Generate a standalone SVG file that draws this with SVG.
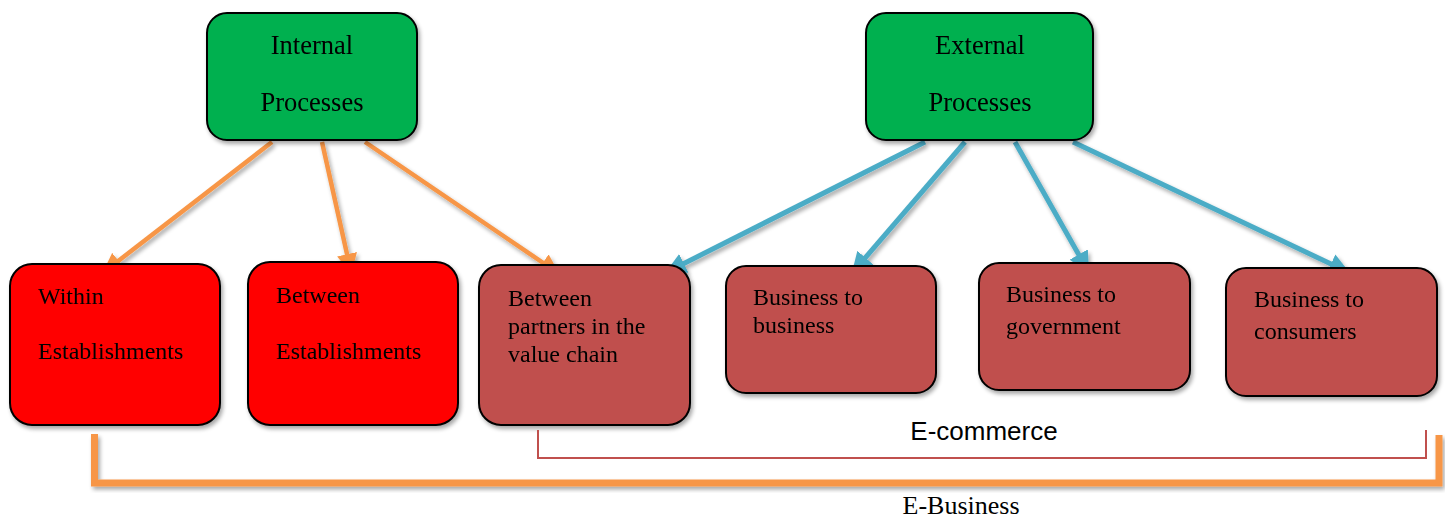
<svg xmlns="http://www.w3.org/2000/svg" width="1445" height="518" viewBox="0 0 1445 518">
<style>
.box{stroke:#000;stroke-width:2}
.g{fill:#00b050}
.r{fill:#ff0000}
.b{fill:#c0504d}
.t{font-family:"Liberation Serif","Times New Roman",serif;fill:#000}
.h{font-size:26.5px}
.s{font-size:24px}
.or{stroke:#f79646;stroke-width:4.5;fill:none}
.bl{stroke:#4bacc6;stroke-width:5;fill:none}
</style>
<defs>
<filter id="sh" x="-10%" y="-10%" width="130%" height="130%">
<feGaussianBlur in="SourceAlpha" stdDeviation="2"/>
<feOffset dx="2" dy="3" result="o"/>
<feComponentTransfer><feFuncA type="linear" slope="0.35"/></feComponentTransfer>
<feMerge><feMergeNode/><feMergeNode in="SourceGraphic"/></feMerge>
</filter>
<marker id="ao" viewBox="0 0 10 10" refX="9" refY="5" markerWidth="4.5" markerHeight="4.5" orient="auto" markerUnits="strokeWidth">
<path d="M0,0 L10,5 L0,10 z" fill="#f79646"/>
</marker>
<marker id="ab" viewBox="0 0 10 10" refX="9" refY="5" markerWidth="4.2" markerHeight="4.2" orient="auto" markerUnits="strokeWidth">
<path d="M0,0 L10,5 L0,10 z" fill="#4bacc6"/>
</marker>
</defs>
<g id="connectors" filter="url(#sh)">
<line class="or" x1="272" y1="142" x2="104" y2="272" marker-end="url(#ao)"/>
<line class="or" x1="322" y1="142" x2="351" y2="272" marker-end="url(#ao)"/>
<line class="or" x1="365" y1="142" x2="558" y2="273" marker-end="url(#ao)"/>
<line class="bl" x1="925" y1="142" x2="667" y2="272" marker-end="url(#ab)"/>
<line class="bl" x1="965" y1="142" x2="853" y2="272" marker-end="url(#ab)"/>
<line class="bl" x1="1015" y1="142" x2="1088" y2="271" marker-end="url(#ab)"/>
<line class="bl" x1="1073" y1="142" x2="1348" y2="272" marker-end="url(#ab)"/>
</g>
<g id="internal" filter="url(#sh)">
<rect class="box g" x="207" y="13" width="210" height="127" rx="20"/>
<text class="t h" x="312" y="54" text-anchor="middle">Internal</text>
<text class="t h" x="312" y="111" text-anchor="middle">Processes</text>
</g>
<g id="external" filter="url(#sh)">
<rect class="box g" x="866" y="13" width="227" height="127" rx="20"/>
<text class="t h" x="980" y="54" text-anchor="middle">External</text>
<text class="t h" x="980" y="111" text-anchor="middle">Processes</text>
</g>
<g id="within" filter="url(#sh)">
<rect class="box r" x="10" y="264" width="210" height="161" rx="22"/>
<text class="t s" x="38" y="304">Within</text>
<text class="t s" x="38" y="359">Establishments</text>
</g>
<g id="between" filter="url(#sh)">
<rect class="box r" x="248" y="262" width="210" height="163" rx="22"/>
<text class="t s" x="276" y="303">Between</text>
<text class="t s" x="276" y="359">Establishments</text>
</g>
<g id="partners" filter="url(#sh)">
<rect class="box b" x="479" y="265" width="211" height="160" rx="22"/>
<text class="t s" x="508" y="306">Between</text>
<text class="t s" x="508" y="334">partners in the</text>
<text class="t s" x="508" y="362">value chain</text>
</g>
<g id="b2b" filter="url(#sh)">
<rect class="box b" x="726" y="266" width="210" height="127" rx="20"/>
<text class="t s" x="753" y="305">Business to</text>
<text class="t s" x="753" y="333">business</text>
</g>
<g id="b2g" filter="url(#sh)">
<rect class="box b" x="979" y="263" width="211" height="127" rx="20"/>
<text class="t s" x="1006" y="302">Business to</text>
<text class="t s" x="1006" y="334">government</text>
</g>
<g id="b2c" filter="url(#sh)">
<rect class="box b" x="1226" y="268" width="211" height="128" rx="20"/>
<text class="t s" x="1254" y="307">Business to</text>
<text class="t s" x="1254" y="339">consumers</text>
</g>
<g id="ecommerce">
<polyline points="538,430 538,458 1426,458 1426,430" fill="none" stroke="#c0504d" stroke-width="2"/>
<text x="984" y="440" text-anchor="middle" font-family="Liberation Sans, Arial, sans-serif" font-size="26" fill="#000">E-commerce</text>
</g>
<g id="ebusiness">
<polyline points="94.5,434 94.5,483 1439,483 1439,435" fill="none" stroke="#f79646" stroke-width="7" filter="url(#sh)"/>
<text x="961" y="514" text-anchor="middle" font-family="Liberation Serif, Times New Roman, serif" font-size="26" fill="#000">E-Business</text>
</g>
</svg>
